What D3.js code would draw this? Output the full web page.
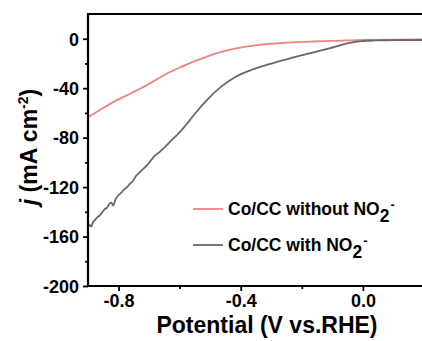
<!DOCTYPE html>
<html>
<head>
<meta charset="utf-8">
<script src="https://cdn.jsdelivr.net/npm/d3@7"></script>
<style>
  html, body { margin: 0; padding: 0; background: #fff; }
  svg { display: block; }
  text { font-family: "Liberation Sans", Arial, sans-serif; font-weight: bold; fill: #000; }
</style>
</head>
<body>
<svg id="chart" width="422" height="341"></svg>
<script>
// ---- data ----
const withoutX = [-0.9, -0.86, -0.818, -0.775, -0.73, -0.686, -0.643, -0.595, -0.55, -0.485, -0.419, -0.353, -0.266, -0.157, -0.058, 0.0, 0.1, 0.2];
const withoutY = [-63.5, -57.5, -51.3, -46.0, -40.5, -34.5, -28.3, -22.8, -18.1, -12.2, -8.1, -5.4, -3.5, -2.2, -1.4, -1.0, -0.7, -0.6];

const withX = [-0.9, -0.894, -0.889, -0.884, -0.878, -0.87, -0.862, -0.855, -0.845, -0.837, -0.829, -0.823, -0.818, -0.81, -0.802, -0.791, -0.78, -0.772, -0.763, -0.752, -0.744, -0.736, -0.72, -0.703, -0.681, -0.665, -0.649, -0.627, -0.605, -0.585, -0.567, -0.55, -0.507, -0.463, -0.419, -0.364, -0.31, -0.244, -0.179, -0.113, -0.048, -0.004, 0.04, 0.1, 0.2];
const withY = [-152.5, -150.5, -152, -148.5, -147, -144.5, -143, -141, -137.7, -136.5, -133, -132.5, -135, -130, -127, -124.5, -121.5, -120, -117.4, -114.7, -111.5, -109.3, -105.5, -101.2, -94.5, -91.5, -87.8, -82.3, -76.9, -71.5, -66, -60.7, -48.6, -38.5, -31.1, -25.1, -20.8, -16.2, -12.1, -8.1, -3.6, -1.9, -1.4, -1.2, -1.0];

const xMajorTicks = [-0.8, -0.4, 0.0];
const xMinorTicks = [-0.6, -0.2, 0.2];
const yMajorTicks = [0, -40, -80, -120, -160, -200];
const yMinorTicks = [-20, -60, -100, -140, -180];
const seriesNames = ["Co/CC without NO", "Co/CC with NO"];
const seriesColors = ["#f08282", "#686868"];

// ---- layout ----
const svg = d3.select("#chart");
const L = 88, R = 424, T = 14, B = 286;

const x = d3.scaleLinear().domain([-0.9, 0.2]).range([L, R]);
const y = d3.scaleLinear().domain([-200, 20]).range([B, T]);

// lines
const line = d3.line().x(d => x(d[0])).y(d => y(d[1])).curve(d3.curveMonotoneX);
const redData = withoutX.map((v, i) => [v, withoutY[i]]);
const grayData = withX.map((v, i) => [v, withY[i]]);

svg.append("path").datum(redData)
  .attr("d", line)
  .attr("fill", "none").attr("stroke", seriesColors[0]).attr("stroke-width", 1.8);
svg.append("path").datum(grayData)
  .attr("d", line)
  .attr("fill", "none").attr("stroke", seriesColors[1]).attr("stroke-width", 1.8);

// axes
const fmtX = d => d3.format(".1f")(d).replace("−", "-");
const xAxis = svg.append("g").attr("transform", `translate(0,${B})`)
  .call(d3.axisBottom(x).tickValues(xMajorTicks).tickSize(5).tickPadding(3).tickFormat(fmtX));
const xAxisMinor = svg.append("g").attr("transform", `translate(0,${B})`)
  .call(d3.axisBottom(x).tickValues(xMinorTicks).tickSize(3).tickFormat(""));
const yAxis = svg.append("g").attr("transform", `translate(${L},0)`)
  .call(d3.axisLeft(y).tickValues(yMajorTicks).tickSize(5).tickPadding(4).tickFormat(d => String(d)));
const yAxisMinor = svg.append("g").attr("transform", `translate(${L},0)`)
  .call(d3.axisLeft(y).tickValues(yMinorTicks).tickSize(3).tickFormat(""));

[xAxis, xAxisMinor, yAxis, yAxisMinor].forEach(g => {
  g.select(".domain").remove();
  g.selectAll(".tick line").attr("stroke", "#000").attr("stroke-width", 1.8);
  g.selectAll(".tick text").style("font-size", "18px").style("font-family", "Liberation Sans, Arial, sans-serif").style("font-weight", "bold");
});
yAxis.selectAll(".tick text").attr("dy", "0.35em");

// frame: left, bottom, top
svg.append("line").attr("x1", L).attr("x2", L).attr("y1", T - 1).attr("y2", B + 1).attr("stroke", "#000").attr("stroke-width", 2.2);
svg.append("line").attr("x1", L).attr("x2", R).attr("y1", B).attr("y2", B).attr("stroke", "#000").attr("stroke-width", 2.2);
svg.append("line").attr("x1", L).attr("x2", R).attr("y1", T).attr("y2", T).attr("stroke", "#000").attr("stroke-width", 2.2);

// axis titles
svg.append("text").attr("x", 267).attr("y", 333).attr("text-anchor", "middle")
  .style("font-size", "23px").text("Potential (V vs.RHE)");

const yt = svg.append("text").attr("transform", "translate(37,147) rotate(-90)")
  .attr("text-anchor", "middle").style("font-size", "23px");
yt.append("tspan").style("font-style", "italic").text("j");
yt.append("tspan").text(" (mA cm");
yt.append("tspan").attr("dy", -9).style("font-size", "14px").text("-2");
yt.append("tspan").attr("dy", 9).text(")");

// legend
const legY = [209, 245];
seriesNames.forEach((name, i) => {
  svg.append("line").attr("x1", 193).attr("x2", 223).attr("y1", legY[i]).attr("y2", legY[i])
    .attr("stroke", seriesColors[i]).attr("stroke-width", 1.8);
  const t = svg.append("text").attr("x", 228).attr("y", legY[i] + 6).style("font-size", "17.5px");
  t.append("tspan").text(name);
  t.append("tspan").attr("dy", 7).text("2");
  t.append("tspan").attr("dy", -13).attr("dx", 1).style("font-size", "13px").text("-");
});
</script>
</body>
</html>
